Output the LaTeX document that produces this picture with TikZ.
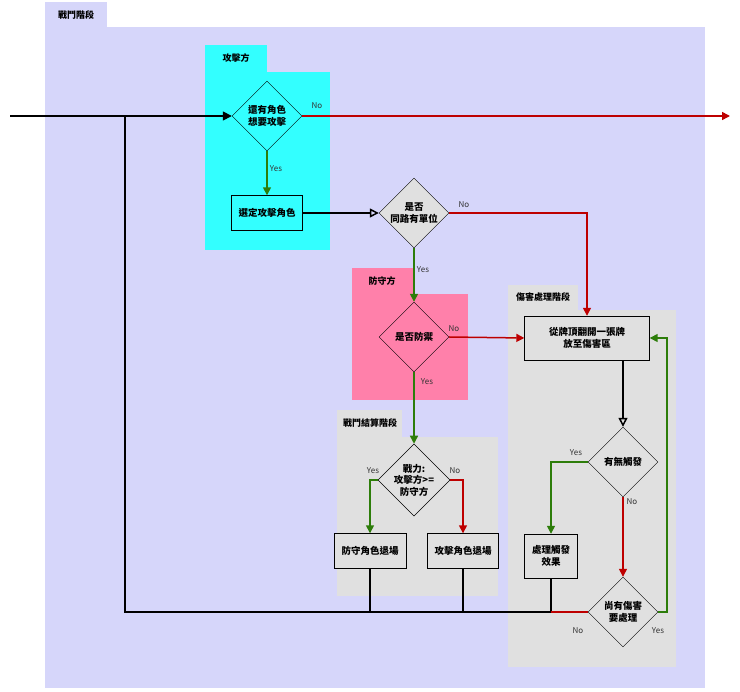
\documentclass[tikz,border=0pt]{standalone}
\usepackage{fontspec}
\setmainfont{Noto Sans CJK TC}
\usetikzlibrary{shapes.geometric,arrows.meta}
\definecolor{lav}{RGB}{214,214,250}
\definecolor{cy}{RGB}{51,255,255}
\definecolor{pk}{RGB}{255,128,170}
\definecolor{lg}{RGB}{224,224,224}
\definecolor{gr}{RGB}{45,125,10}
\definecolor{rd}{RGB}{190,0,0}
\tikzset{
 dia/.style={diamond,draw,aspect=1,minimum width=70pt,minimum height=70pt,inner sep=0pt,align=center,font=\bfseries\fontsize{9.5}{11.5}\selectfont},
 box/.style={rectangle,draw,align=center,inner sep=2pt,font=\bfseries\fontsize{9.5}{11.5}\selectfont},
 lanet/.style={font=\bfseries\fontsize{9}{11}\selectfont},
 g/.style={draw=gr,line width=1.5pt,-{Triangle[length=8pt,width=8pt]}},
 r/.style={draw=rd,line width=1.5pt,-{Triangle[length=8pt,width=8pt]}},
 b/.style={draw=black,line width=1.5pt},
 lbl/.style={font=\fontsize{8}{9}\selectfont,text=black!80},
}
\begin{document}
\begin{tikzpicture}[x=1pt,y=-1pt]
\useasboundingbox (0,0) rectangle (740,692);
% lanes
\fill[lav] (45,2) rectangle (107,27); \fill[lav] (45,27) rectangle (705,688);
\node[lanet] (t0) at (76,15) {戰鬥階段};
\fill[cy] (205,45) rectangle (267,72); \fill[cy] (205,72) rectangle (330,250);
\node[lanet] (t1) at (236,58) {攻擊方};
\fill[pk] (352,268) rectangle (413,294); \fill[pk] (352,294) rectangle (468,400);
\node[lanet] (t2) at (382,281) {防守方};
\fill[lg] (337,410) rectangle (402,437); \fill[lg] (337,437) rectangle (498,596);
\node[lanet] (t3) at (370,423) {戰鬥結算階段};
\fill[lg] (508,285) rectangle (578,310); \fill[lg] (508,310) rectangle (676,667);
\node[lanet] (t4) at (543,297) {傷害處理階段};
% nodes
\node[dia,fill=cy] (d1) at (267,116) {還有角色\\想要攻擊};
\node[box,fill=cy,minimum width=71pt,minimum height=35pt] (b1) at (267,213) {選定攻擊角色};
\node[dia,fill=lg] (d2) at (414,213) {是否\\同路有單位};
\node[dia,fill=pk] (d3) at (414,337) {是否防禦};
\node[dia,fill=lg] (d4) at (414,480) {戰力:\\攻擊方>=\\防守方};
\node[box,fill=lg,minimum width=72pt,minimum height=35pt] (b2) at (370,551) {防守角色退場};
\node[box,fill=lg,minimum width=71pt,minimum height=35pt] (b3) at (463,551) {攻擊角色退場};
\node[box,fill=lg,minimum width=125pt,minimum height=44pt] (b4) at (587,338) {從牌頂翻開一張牌\\放至傷害區};
\node[dia,fill=lg] (d5) at (623,462) {有無觸發};
\node[box,fill=lg,minimum width=53pt,minimum height=44pt] (b5) at (551,556) {處理觸發\\效果};
\node[dia,fill=lg] (d6) at (623,612) {尚有傷害\\要處理};
\coordinate (in) at (10,116);
\coordinate (out) at (730,116);
\coordinate (j1) at (125,116);
\coordinate (j2) at (125,612);
\coordinate (j3) at (551,612);
\coordinate (j4) at (667,612);
\coordinate (j5) at (667,338);
% connectors
\draw[b,-{Triangle[length=9pt,width=9pt]}] (in) -- (d1.west);
\draw[b] (j1) -- (j2) -- (j3);
\draw[b] (b2.south) -- (b2.south |- j2);
\draw[b] (b3.south) -- (b3.south |- j2);
\draw[b] (b5.south) -- (j3);
\draw[draw=rd,line width=1.5pt] (d6.west) -- (j3);
\draw[r] (d1.east) -- (out);
\draw[g] (d1.south) -- (b1.north);
\draw[b,-{Triangle[open,length=9pt,width=9pt]}] (b1.east) -- (d2.west);
\draw[r] (d2.east) -| (b4.north);
\draw[g] (d2.south) -- (d3.north);
\draw[r] (d3.east) -- (b4.west);
\draw[g] (d3.south) -- (d4.north);
\draw[g] (d4.west) -| (b2.north);
\draw[r] (d4.east) -| (b3.north);
\draw[b,-{Triangle[open,length=9pt,width=9pt]}] (b4.south -| d5.north) -- (d5.north);
\draw[g] (d5.west) -| (b5.north);
\draw[r] (d5.south) -- (d6.north);
\draw[g] (d6.east) -- (j4) -- (j5) -- (b4.east);
% labels
\node[lbl] (l1) at (317,106) {No};
\node[lbl] (l2) at (276,169) {Yes};
\node[lbl] (l3) at (464,205) {No};
\node[lbl] (l4) at (423,270) {Yes};
\node[lbl] (l5) at (454,329) {No};
\node[lbl] (l6) at (427,382) {Yes};
\node[lbl] (l7) at (373,471) {Yes};
\node[lbl] (l8) at (455,471) {No};
\node[lbl] (l9) at (576,453) {Yes};
\node[lbl] (l10) at (632,502) {No};
\node[lbl] (l11) at (578,631) {No};
\node[lbl] (l12) at (658,631) {Yes};
\end{tikzpicture}
\end{document}
